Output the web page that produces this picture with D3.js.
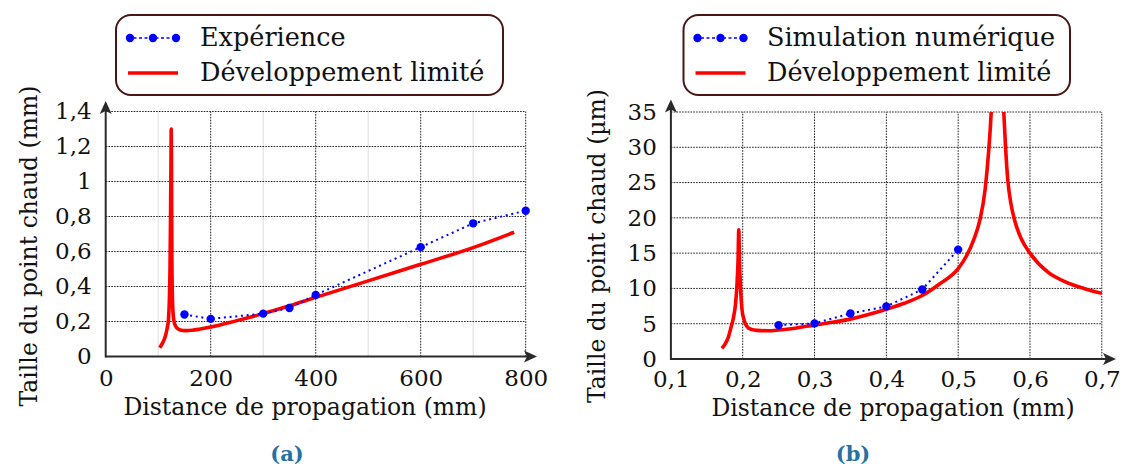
<!DOCTYPE html>
<html>
<head>
<meta charset="utf-8">
<script src="https://cdn.jsdelivr.net/npm/d3@7"></script>
<style>
  html, body { margin: 0; padding: 0; background: #fff; }
  svg text { font-family: "DejaVu Serif", "Liberation Serif", serif; fill: #111; }
</style>
</head>
<body>
<svg id="chart" width="1124" height="466"></svg>
<script>
// ---------- DATA ----------
// Panel (a)
const aXTicks = [0, 200, 400, 600, 800];
const aYTicks = [0, 0.2, 0.4, 0.6, 0.8, 1, 1.2, 1.4];
const aMinorX = [100, 300, 500, 700];
const aExpX = [150, 200, 300, 350, 400, 600, 700, 800];
const aExpY = [0.24, 0.215, 0.245, 0.277, 0.352, 0.625, 0.761, 0.833];
const aDevX = [103, 108, 113, 117, 119.5, 121, 122.5, 123.5, 124.3, 124.8, 125.3, 126, 127, 128.5, 131, 135, 142, 152, 165, 180, 200, 250, 300, 350, 400, 500, 600, 700, 778];
const aDevY = [0.05, 0.075, 0.11, 0.16, 0.21, 0.3, 0.5, 0.8, 1.1, 1.3, 1.1, 0.6, 0.35, 0.24, 0.19, 0.165, 0.152, 0.148, 0.15, 0.157, 0.168, 0.205, 0.245, 0.29, 0.338, 0.432, 0.527, 0.622, 0.71];
const aLegend = ["Expérience", "Développement limité"];
const aXTitle = "Distance de propagation (mm)";
const aYTitle = "Taille du point chaud (mm)";

// Panel (b)
const bXTicks = [0.1, 0.2, 0.3, 0.4, 0.5, 0.6, 0.7];
const bYTicks = [0, 5, 10, 15, 20, 25, 30, 35];
const bSimX = [0.25, 0.3, 0.35, 0.4, 0.45, 0.5];
const bSimY = [4.8, 5.05, 6.45, 7.45, 9.85, 15.5];
const bDevX = [0.171, 0.176, 0.180, 0.184, 0.187, 0.190, 0.192, 0.1935, 0.1945, 0.1955, 0.197, 0.199, 0.202, 0.206, 0.212, 0.22, 0.235, 0.25, 0.275, 0.3, 0.325, 0.35, 0.375, 0.4, 0.425, 0.45, 0.475, 0.5, 0.5115, 0.522, 0.53, 0.5375, 0.5425, 0.546, 0.5495, 0.5595, 0.5635, 0.566, 0.569, 0.5735, 0.5785, 0.588, 0.6, 0.625, 0.65, 0.675, 0.7];
const bDevY = [1.5, 2.2, 3.1, 4.6, 5.8, 7.8, 10.5, 14, 18.3, 14, 10, 7, 5.5, 4.6, 4.2, 4.05, 4.0, 4.1, 4.4, 4.8, 5.2, 5.65, 6.3, 7.05, 7.9, 9.0, 10.7, 12.8, 14.6, 17, 19.6, 24, 29.5, 35, 45, 45, 35, 30, 25.5, 22, 19.7, 17, 15, 12.3, 10.9, 10.0, 9.3];
const bLegend = ["Simulation numérique", "Développement limité"];
const bXTitle = "Distance de propagation (mm)";
const bYTitle = "Taille du point chaud (µm)";

const panelLabels = ["(a)", "(b)"];

// ---------- DRAW ----------
const svg = d3.select("#chart");
const BLUE = "#0000ff", RED = "#ff0000", AXIS = "#2a2a2a";
const fmt = d => String(d).replace(".", ",");

function panel(cfg) {
  const g = svg.append("g");
  const x = d3.scaleLinear().domain(cfg.xDomain).range(cfg.xRange);
  const y = d3.scaleLinear().domain(cfg.yDomain).range(cfg.yRange);
  const [x0, x1] = cfg.xRange, [y0, y1] = cfg.yRange;

  // minor light grid
  g.selectAll(".minor").data(cfg.minorX || []).join("line")
    .attr("x1", d => x(d)).attr("x2", d => x(d)).attr("y1", y0).attr("y2", y1)
    .attr("stroke", "#dcdcdc").attr("stroke-width", 1);

  // dotted grid
  g.selectAll(".gx").data(cfg.xTicks.filter(d => d !== cfg.xDomain[0])).join("line")
    .attr("x1", d => x(d)).attr("x2", d => x(d)).attr("y1", y0).attr("y2", y1)
    .attr("stroke", "#222").attr("stroke-width", 1).attr("stroke-dasharray", "1.6,1.2");
  g.selectAll(".gy").data(cfg.yTicks.filter(d => d !== cfg.yDomain[0])).join("line")
    .attr("x1", x0).attr("x2", x1).attr("y1", d => y(d)).attr("y2", d => y(d))
    .attr("stroke", "#222").attr("stroke-width", 1).attr("stroke-dasharray", "1.6,1.2");

  // axes tick labels
  const ax = g.append("g").attr("transform", `translate(0,${y0})`)
    .call(d3.axisBottom(x).tickValues(cfg.xTicks).tickFormat(fmt).tickSize(0).tickPadding(cfg.xPad));
  const ay = g.append("g").attr("transform", `translate(${x0},0)`)
    .call(d3.axisLeft(y).tickValues(cfg.yTicks).tickFormat(fmt).tickSize(0).tickPadding(14));
  [ax, ay].forEach(a => {
    a.attr("font-family", null).attr("font-size", null);
    a.select(".domain").remove();
    a.selectAll("text").style("font-family", '"DejaVu Serif", serif').style("font-size", "23px").attr("fill", "#111");
  });

  // axis lines with arrows
  g.append("line").attr("x1", x0).attr("x2", cfg.xTip - 8).attr("y1", y0).attr("y2", y0)
    .attr("stroke", AXIS).attr("stroke-width", 2);
  g.append("line").attr("x1", x0).attr("x2", x0).attr("y1", y0 + 1).attr("y2", cfg.yTip + 8)
    .attr("stroke", AXIS).attr("stroke-width", 2);
  const tx = cfg.xTip, ty = cfg.yTip;
  g.append("path").attr("d", `M${tx},${y0} L${tx - 13},${y0 - 6} L${tx - 10},${y0} L${tx - 13},${y0 + 6} Z`).attr("fill", AXIS);
  g.append("path").attr("d", `M${x0},${ty} L${x0 - 6},${ty + 13} L${x0},${ty + 10} L${x0 + 6},${ty + 13} Z`).attr("fill", AXIS);

  // clip
  const cid = "clip" + cfg.id;
  svg.append("clipPath").attr("id", cid).append("rect")
    .attr("x", x0).attr("y", y1).attr("width", x1 - x0 + 10).attr("height", y0 - y1 + 10);

  // red curve
  const dev = cfg.devX.map((d, i) => [d, cfg.devY[i]]);
  g.append("path").datum(dev)
    .attr("clip-path", `url(#${cid})`)
    .attr("d", d3.line().x(d => x(d[0])).y(d => y(d[1])).curve(d3.curveMonotoneX))
    .attr("fill", "none").attr("stroke", RED).attr("stroke-width", 3.6).attr("stroke-linejoin", "round");

  // blue dotted + markers
  const pts = cfg.ptX.map((d, i) => [d, cfg.ptY[i]]);
  g.append("path").datum(pts)
    .attr("d", d3.line().x(d => x(d[0])).y(d => y(d[1])))
    .attr("fill", "none").attr("stroke", BLUE).attr("stroke-width", 2).attr("stroke-dasharray", "2,3.7");
  g.selectAll(".pt").data(pts).join("circle")
    .attr("cx", d => x(d[0])).attr("cy", d => y(d[1])).attr("r", 4.2).attr("fill", BLUE);

  // titles
  g.append("text").attr("x", cfg.xTitlePos[0]).attr("y", cfg.xTitlePos[1])
    .attr("text-anchor", "middle").style("font-size", "23.5px").text(cfg.xTitle);
  g.append("text").attr("transform", `translate(${cfg.yTitlePos[0]},${cfg.yTitlePos[1]}) rotate(-90)`)
    .attr("text-anchor", "middle").attr("dominant-baseline", "central").style("font-size", "23.5px").text(cfg.yTitle);

  // legend
  const L = cfg.legend;
  const lg = g.append("g");
  lg.append("rect").attr("x", L.x).attr("y", L.y).attr("width", L.w).attr("height", L.h)
    .attr("rx", 15).attr("ry", 15).attr("fill", "#fff").attr("stroke", "#4a1515").attr("stroke-width", 2);
  const sx = L.x + 12, sw = 50;
  lg.append("line").attr("x1", sx).attr("x2", sx + sw).attr("y1", L.y + 23).attr("y2", L.y + 23)
    .attr("stroke", BLUE).attr("stroke-width", 1.6).attr("stroke-dasharray", "3,2.5");
  lg.selectAll(".lm").data([0, 0.5, 1]).join("circle")
    .attr("cx", d => sx + 2 + d * (sw - 4)).attr("cy", L.y + 23).attr("r", 4.2).attr("fill", BLUE);
  lg.append("line").attr("x1", sx).attr("x2", sx + sw).attr("y1", L.y + 58).attr("y2", L.y + 58)
    .attr("stroke", RED).attr("stroke-width", 3.6);
  lg.selectAll(".lt").data(L.labels).join("text")
    .attr("x", L.tx).attr("y", (d, i) => L.y + 31 + i * 35)
    .style("font-size", "25.5px").text(d => d);

  // panel label
  g.append("text").attr("x", cfg.labelPos[0]).attr("y", cfg.labelPos[1]).attr("text-anchor", "middle")
    .style("font-size", "21px").style("font-weight", "bold").style("fill", "#2471a3")
    .text(cfg.label);
}

panel({
  id: "a",
  xDomain: [0, 800], xRange: [105.7, 525.7],
  yDomain: [0, 1.4], yRange: [356.5, 111.5],
  xTicks: aXTicks, yTicks: aYTicks, minorX: aMinorX, xPad: 13,
  xTip: 537, yTip: 101,
  devX: aDevX, devY: aDevY, ptX: aExpX, ptY: aExpY,
  xTitle: aXTitle, yTitle: aYTitle,
  xTitlePos: [305, 415], yTitlePos: [29, 246],
  legend: { x: 116, y: 15, w: 387, h: 80, tx: 200, labels: aLegend },
  label: panelLabels[0], labelPos: [287, 461]
});

panel({
  id: "b",
  xDomain: [0.1, 0.7], xRange: [670.9, 1101.8],
  yDomain: [0, 35], yRange: [359, 112],
  xTicks: bXTicks, yTicks: bYTicks, minorX: [], xPad: 12,
  xTip: 1116, yTip: 99.5,
  devX: bDevX, devY: bDevY, ptX: bSimX, ptY: bSimY,
  xTitle: bXTitle, yTitle: bYTitle,
  xTitlePos: [893, 416], yTitlePos: [597, 246],
  legend: { x: 683.5, y: 15, w: 386.5, h: 80, tx: 767, labels: bLegend },
  label: panelLabels[1], labelPos: [853, 461]
});
</script>
</body>
</html>
